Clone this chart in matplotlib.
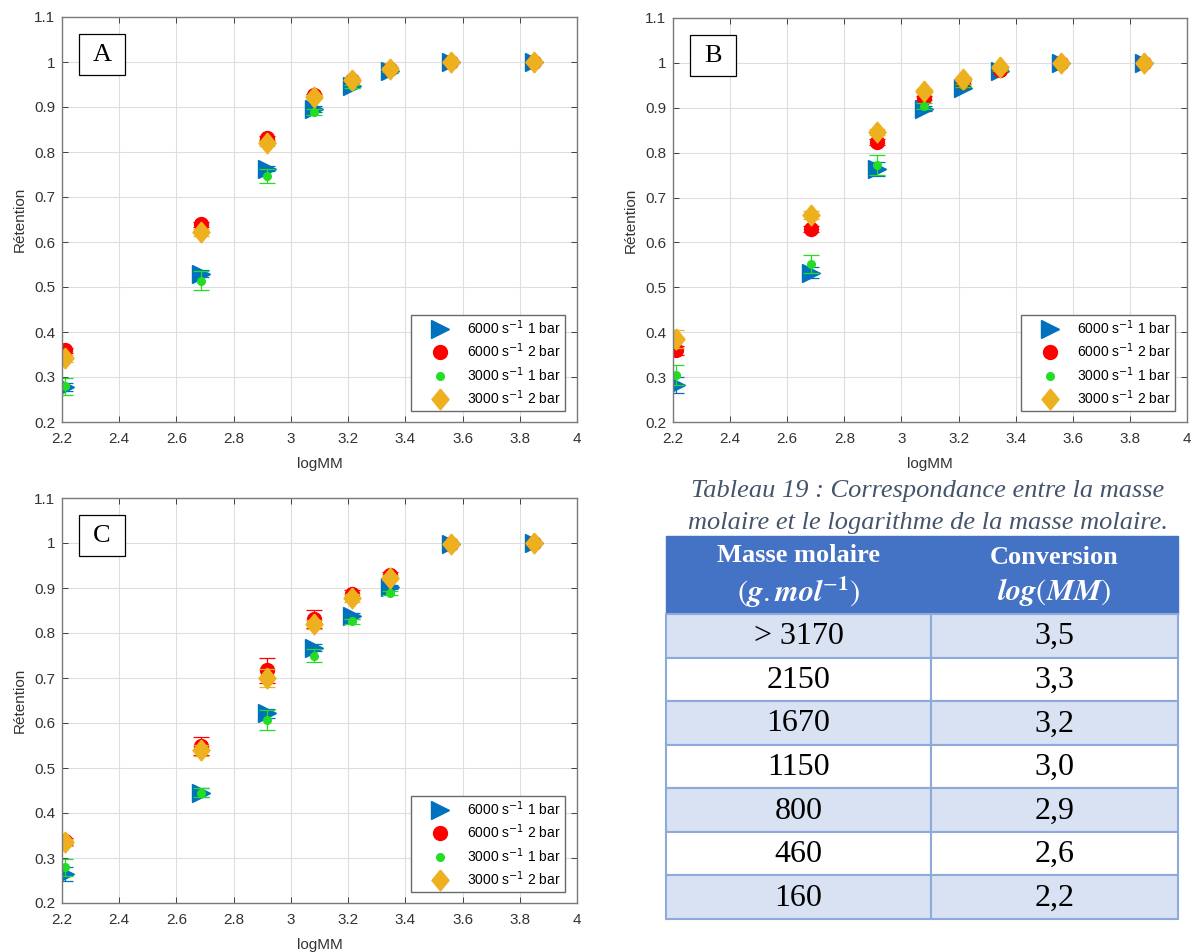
import matplotlib.pyplot as plt
from matplotlib.patches import Rectangle
from matplotlib.lines import Line2D
from matplotlib.ticker import FormatStrFormatter
import numpy as np

# x positions (logMM) shared by all panels
logmm = [2.21, 2.685, 2.915, 3.08, 3.215, 3.345, 3.56, 3.85]

# panel A
a_6000_1 = [0.278, 0.530, 0.763, 0.896, 0.946, 0.979, 1.000, 1.000]
a_6000_2 = [0.359, 0.639, 0.831, 0.926, 0.959, 0.985, 1.000, 1.000]
a_3000_1 = [0.279, 0.514, 0.747, 0.889, 0.946, 0.981, 1.000, 1.000]
a_3000_2 = [0.342, 0.622, 0.819, 0.922, 0.961, 0.985, 1.000, 1.000]
a_err_6000_1 = [0.008, 0.008, 0.006, 0.006, 0.004, 0.003, 0.002, 0.002]
a_err_6000_2 = [0.006, 0.006, 0.005, 0.004, 0.003, 0.003, 0.002, 0.002]
a_err_3000_1 = [0.018, 0.021, 0.016, 0.006, 0.004, 0.003, 0.002, 0.002]
a_err_3000_2 = [0.008, 0.008, 0.006, 0.005, 0.004, 0.003, 0.002, 0.002]

# panel B
b_6000_1 = [0.283, 0.533, 0.763, 0.898, 0.945, 0.982, 1.000, 1.000]
b_6000_2 = [0.360, 0.630, 0.824, 0.922, 0.957, 0.985, 1.000, 1.000]
b_3000_1 = [0.305, 0.551, 0.773, 0.904, 0.950, 0.984, 1.000, 1.000]
b_3000_2 = [0.384, 0.661, 0.846, 0.937, 0.965, 0.990, 1.000, 1.000]
b_err_6000_1 = [0.018, 0.012, 0.016, 0.006, 0.004, 0.003, 0.002, 0.002]
b_err_6000_2 = [0.010, 0.006, 0.006, 0.004, 0.003, 0.003, 0.002, 0.002]
b_err_3000_1 = [0.022, 0.020, 0.022, 0.006, 0.004, 0.003, 0.002, 0.002]
b_err_3000_2 = [0.020, 0.008, 0.006, 0.005, 0.004, 0.003, 0.002, 0.002]

# panel C
c_6000_1 = [0.265, 0.445, 0.622, 0.767, 0.838, 0.902, 0.998, 1.000]
c_6000_2 = [0.337, 0.548, 0.717, 0.832, 0.887, 0.929, 0.997, 1.000]
c_3000_1 = [0.279, 0.445, 0.606, 0.750, 0.826, 0.889, 1.000, 1.000]
c_3000_2 = [0.335, 0.539, 0.700, 0.820, 0.878, 0.923, 0.997, 1.000]
c_err_6000_1 = [0.015, 0.010, 0.010, 0.008, 0.006, 0.004, 0.002, 0.002]
c_err_6000_2 = [0.008, 0.020, 0.027, 0.020, 0.008, 0.006, 0.002, 0.002]
c_err_3000_1 = [0.018, 0.010, 0.022, 0.015, 0.006, 0.004, 0.002, 0.002]
c_err_3000_2 = [0.008, 0.012, 0.020, 0.010, 0.008, 0.006, 0.002, 0.002]

series_labels = ["6000 s$^{-1}$ 1 bar", "6000 s$^{-1}$ 2 bar",
                 "3000 s$^{-1}$ 1 bar", "3000 s$^{-1}$ 2 bar"]
series_colors = ["#0072BD", "#FF0000", "#22DD22", "#EDB120"]
# matlab-like diamond (a bit wider than mpl's thin diamond)
diamond = [(0, 1), (0.82, 0), (0, -1), (-0.82, 0), (0, 1)]
series_markers = [">", "o", "o", diamond]
series_sizes = [12.5, 10, 5.5, 15]

# table
masses = ["> 3170", "2150", "1670", "1150", "800", "460", "160"]
conversions = ["3,5", "3,3", "3,2", "3,0", "2,9", "2,6", "2,2"]
caption = "Tableau 19 : Correspondance entre la masse\nmolaire et le logarithme de la masse molaire."

plt.rcParams["font.family"] = ["Liberation Sans", "DejaVu Sans"]

W, H = 1192, 952
fig = plt.figure(figsize=(W / 100, H / 100), dpi=100)


def panel(rect_px, letter, ys, errs):
    l, t, r, b = rect_px
    ax = fig.add_axes([l / W, 1 - b / H, (r - l) / W, (b - t) / H])
    handles = []
    for i in range(4):
        ax.errorbar(logmm, ys[i], yerr=errs[i], fmt="none", ecolor=series_colors[i],
                    elinewidth=0.9, capsize=5.5, capthick=0.9)
        ax.plot(logmm, ys[i], linestyle="none", marker=series_markers[i],
                color=series_colors[i], ms=series_sizes[i], mec=series_colors[i])
        handles.append(Line2D([], [], linestyle="none", marker=series_markers[i],
                              color=series_colors[i], ms=series_sizes[i],
                              mec=series_colors[i], label=series_labels[i]))
    ax.set_xlim(2.2, 4)
    ax.set_ylim(0.2, 1.1)
    ax.set_xticks(np.arange(2.2, 4.01, 0.2))
    ax.set_yticks(np.arange(0.2, 1.101, 0.1))
    ax.xaxis.set_major_formatter(FormatStrFormatter("%g"))
    ax.yaxis.set_major_formatter(FormatStrFormatter("%g"))
    ax.tick_params(direction="in", top=True, right=True, length=4, width=0.6,
                   labelsize=11, labelcolor="#333333", color="#262626")
    ax.tick_params(axis="x", pad=7)
    ax.tick_params(axis="y", pad=5)
    ax.grid(True, color="#DEDEDE", linewidth=0.8)
    ax.set_axisbelow(True)
    for s in ax.spines.values():
        s.set_color("#7a7a7a")
        s.set_linewidth(1.0)
    ax.set_xlabel("logMM", fontsize=11, color="#333333", labelpad=8)
    ax.set_ylabel("Rétention", fontsize=11, color="#333333", labelpad=5)
    leg = ax.legend(handles=handles, loc="lower right", bbox_to_anchor=(0.976, 0.028),
                    borderaxespad=0, fontsize=10, frameon=True, fancybox=False,
                    framealpha=1, edgecolor="#6a6a6a", handlelength=3.6,
                    handletextpad=0.2, borderpad=0.25, labelspacing=0.35)
    leg.get_frame().set_linewidth(1.0)
    ax.add_patch(Rectangle((0.033, 0.857), 0.089, 0.101, transform=ax.transAxes,
                           fill=True, facecolor="white", edgecolor="black", lw=0.9, zorder=5))
    ax.text(0.0775, 0.905, letter, transform=ax.transAxes, ha="center", va="center",
            fontsize=19, family="Liberation Serif", zorder=6)
    return ax


panel((62, 17, 577, 422), "A",
      [a_6000_1, a_6000_2, a_3000_1, a_3000_2],
      [a_err_6000_1, a_err_6000_2, a_err_3000_1, a_err_3000_2])
panel((673, 18, 1187, 422), "B",
      [b_6000_1, b_6000_2, b_3000_1, b_3000_2],
      [b_err_6000_1, b_err_6000_2, b_err_3000_1, b_err_3000_2])
panel((62, 498, 577, 903), "C",
      [c_6000_1, c_6000_2, c_3000_1, c_3000_2],
      [c_err_6000_1, c_err_6000_2, c_err_3000_1, c_err_3000_2])

# table drawn in pixel coordinates
tab = fig.add_axes([0, 0, 1, 1], zorder=-1)
tab.set_xlim(0, W)
tab.set_ylim(H, 0)
tab.axis("off")

tx0, tx1, tmid = 666, 1178, 931
head_top, head_bot = 536, 614
row_h = (919 - head_bot) / len(masses)

tab.text(928, 507, caption, ha="center", va="center", fontsize=19,
         style="italic", family="Liberation Serif", color="#44546A", linespacing=1.55)

tab.add_patch(Rectangle((tx0, head_top), tx1 - tx0, head_bot - head_top,
                        facecolor="#4472C4", edgecolor="#4472C4", lw=1))
tab.text((tx0 + tmid) / 2, 555, "Masse molaire", ha="center", va="center",
         fontsize=19, weight="bold", family="Liberation Serif", color="white")
tab.text((tx0 + tmid) / 2, 592, r"$(\mathbfit{g}.\mathbfit{mol}^{-\mathbf{1}})$",
         ha="center", va="center", fontsize=22, color="white", math_fontfamily="stix")
tab.text((tmid + tx1) / 2, 557, "Conversion", ha="center", va="center",
         fontsize=19, weight="bold", family="Liberation Serif", color="white")
tab.text((tmid + tx1) / 2, 592, r"$\mathbfit{log}(\mathbfit{MM})$",
         ha="center", va="center", fontsize=22, color="white", math_fontfamily="stix")

for i, (m, c) in enumerate(zip(masses, conversions)):
    y0 = head_bot + i * row_h
    fc = "#D9E2F3" if i % 2 == 0 else "white"
    for x0, x1, txt in [(tx0, tmid, m), (tmid, tx1, c)]:
        tab.add_patch(Rectangle((x0, y0), x1 - x0, row_h, facecolor=fc,
                                edgecolor="#8EAADB", lw=1.5))
        tab.text((x0 + x1) / 2, y0 + row_h / 2 + 1, txt, ha="center", va="center",
                 fontsize=23, family="Liberation Serif", color="black")

fig.savefig("out.png", dpi=100)
